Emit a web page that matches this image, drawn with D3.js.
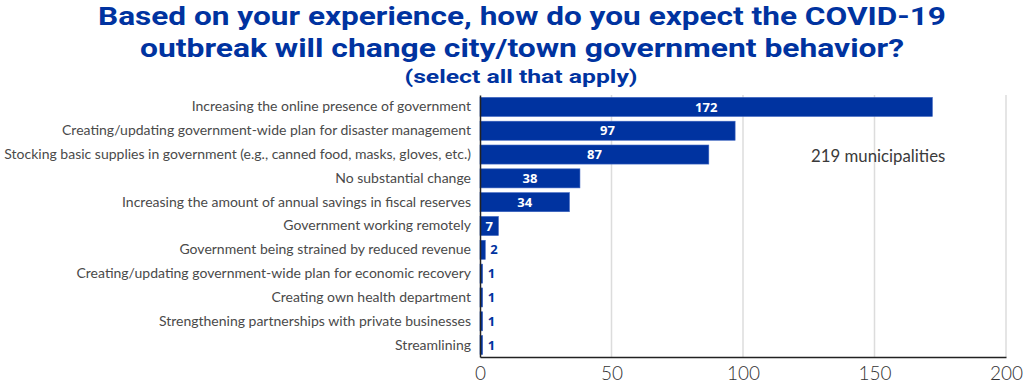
<!DOCTYPE html>
<html>
<head>
<meta charset="utf-8">
<script src="https://cdn.jsdelivr.net/npm/d3@7"></script>
<style>
  html, body { margin: 0; padding: 0; background: #fff; }
  svg { display: block; }
</style>
</head>
<body>
<svg id="chart" width="1024" height="384"></svg>
<script>
const categories = [
  "Increasing the online presence of government",
  "Creating/updating government-wide plan for disaster management",
  "Stocking basic supplies in government (e.g., canned food, masks, gloves, etc.)",
  "No substantial change",
  "Increasing the amount of annual savings in fiscal reserves",
  "Government working remotely",
  "Government being strained by reduced revenue",
  "Creating/updating government-wide plan for economic recovery",
  "Creating own health department",
  "Strengthening partnerships with private businesses",
  "Streamlining"
];
const values = [172, 97, 87, 38, 34, 7, 2, 1, 1, 1, 1];
const xTicks = [0, 50, 100, 150, 200];
const titleLines = [
  "Based on your experience, how do you expect the COVID-19",
  "outbreak will change city/town government behavior?"
];
const subtitle = "(select all that apply)";
const note = "219 municipalities";

const svg = d3.select("#chart");
const blue = "#0033a0";
const margin = { left: 480, right: 18, top: 95, bottom: 27 };
const W = 1024, H = 384;

const x = d3.scaleLinear().domain([0, 200]).range([margin.left, W - margin.right]);
const y = d3.scaleBand().domain(categories).range([margin.top, H - margin.bottom]).paddingInner(0.2).paddingOuter(0.1);

// title (Gotham-like wide letterforms: stretch glyphs to the reference widths)
const titleFont = "Roboto, 'Open Sans', sans-serif";
const titleSpecs = [
  { text: titleLines[0], cx: 522, base: 25, size: 26.5, width: 848 },
  { text: titleLines[1], cx: 522, base: 57, size: 26.5, width: 764 },
  { text: subtitle,      cx: 521, base: 83, size: 18,   width: 233 }
];
svg.append("g").selectAll("text").data(titleSpecs).join("text")
  .attr("x", d => d.cx).attr("y", d => d.base)
  .attr("text-anchor", "middle")
  .attr("font-family", titleFont).attr("font-weight", 700)
  .attr("font-size", d => d.size).attr("fill", blue)
  .attr("textLength", d => d.width)
  .attr("lengthAdjust", "spacingAndGlyphs")
  .text(d => d.text);

// grid
svg.append("g").selectAll("line").data(xTicks.slice(1)).join("line")
  .attr("x1", d => x(d)).attr("x2", d => x(d))
  .attr("y1", margin.top).attr("y2", H - margin.bottom)
  .attr("stroke", "#dcdcdc").attr("stroke-width", 1.5);

// bars
svg.append("g").selectAll("rect").data(values).join("rect")
  .attr("x", x(0))
  .attr("y", (d, i) => y(categories[i]))
  .attr("width", d => x(d) - x(0))
  .attr("height", y.bandwidth())
  .attr("fill", blue)
  .attr("stroke", "#3a63c0").attr("stroke-width", 0.6);

// value labels
const labelFont = "'Open Sans', 'DejaVu Sans', sans-serif";
svg.append("g").selectAll("text").data(values).join("text")
  .attr("x", d => d >= 5 ? (x(0) + x(d)) / 2 : x(d) + 5)
  .attr("y", (d, i) => y(categories[i]) + y.bandwidth() / 2)
  .attr("dy", "0.36em")
  .attr("text-anchor", d => d >= 5 ? "middle" : "start")
  .attr("font-family", labelFont).attr("font-weight", 700)
  .attr("font-size", 13)
  .attr("fill", d => d >= 5 ? "#fff" : blue)
  .text(d => d);

// y axis
const yAxis = svg.append("g").attr("transform", `translate(${x(0)},0)`)
  .call(d3.axisLeft(y).tickSize(0).tickPadding(9));
yAxis.select(".domain").attr("stroke", "#222").attr("stroke-width", 1.5);
yAxis.selectAll("text")
  .attr("font-family", "'Lato', 'DejaVu Sans', sans-serif")
  .attr("font-size", 14).attr("fill", "#4a4a4a");

// x axis
const xAxis = svg.append("g").attr("transform", `translate(0,${H - margin.bottom})`)
  .call(d3.axisBottom(x).tickValues(xTicks).tickSize(0).tickPadding(10));
xAxis.select(".domain").attr("stroke", "#222").attr("stroke-width", 1.5);
xAxis.selectAll("text")
  .attr("font-family", "'Lato', 'DejaVu Sans', sans-serif")
  .attr("font-weight", 300)
  .attr("font-size", 19).attr("fill", "#333");

// note
svg.append("text")
  .attr("x", 811).attr("y", 162)
  .attr("font-family", "'Lato', 'DejaVu Sans', sans-serif")
  .attr("font-size", 16.8).attr("fill", "#3a3a3a")
  .text(note);
</script>
</body>
</html>
